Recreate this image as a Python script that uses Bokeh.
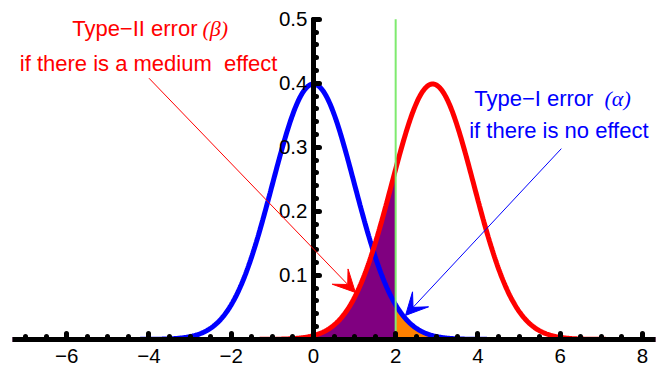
import numpy as np
from bokeh.plotting import figure
from bokeh.models import Range1d, FixedTicker, Arrow, VeeHead, Label
from bokeh.embed import file_html
from bokeh.resources import INLINE

# ---- data ----
x_ticks = [-6, -4, -2, 0, 2, 4, 6, 8]
x_tick_labels = ["\u22126", "\u22124", "\u22122", "0", "2", "4", "6", "8"]
x_minor = [-7.0, -6.5, -6.0, -5.5, -5.0, -4.5, -4.0, -3.5, -3.0, -2.5, -2.0, -1.5, -1.0, -0.5,
           0.0, 0.5, 1.0, 1.5, 2.0, 2.5, 3.0, 3.5, 4.0, 4.5, 5.0, 5.5, 6.0, 6.5, 7.0, 7.5, 8.0]
y_ticks = [0.1, 0.2, 0.3, 0.4, 0.5]
y_tick_labels = ["0.1", "0.2", "0.3", "0.4", "0.5"]
y_minor = [0.02, 0.04, 0.06, 0.08, 0.1, 0.12, 0.14, 0.16, 0.18, 0.2, 0.22, 0.24, 0.26,
           0.28, 0.3, 0.32, 0.34, 0.36, 0.38, 0.4, 0.42, 0.44, 0.46, 0.48, 0.5]
null_mean = 0.0      # no effect
alt_mean = 2.9       # medium effect
sd = 1.0
critical = 2.0
x_min, x_max = -7.32, 8.32

def pdf(x, m, s):
    return np.exp(-0.5 * ((x - m) / s) ** 2) / (s * np.sqrt(2 * np.pi))

xs = np.linspace(x_min, x_max, 900)
blue_y = pdf(xs, null_mean, sd)
red_y = pdf(xs, alt_mean, sd)

xl = np.linspace(x_min, critical, 500)
xr = np.linspace(critical, x_max, 500)

p = figure(width=660, height=369, output_backend="svg", toolbar_location=None,
           x_range=Range1d(x_min, x_max), y_range=Range1d(-0.047, 0.52),
           min_border_left=12, min_border_right=5, min_border_top=6, min_border_bottom=0)
p.outline_line_color = None
p.xgrid.grid_line_color = None
p.ygrid.grid_line_color = None
p.background_fill_color = "white"

# fills
p.varea(x=xl, y1=0, y2=pdf(xl, alt_mean, sd), fill_color="#800080")
p.varea(x=xr, y1=0, y2=pdf(xr, null_mean, sd), fill_color="#FF8000")

# curves
p.line(xs, blue_y, line_color="#0000FF", line_width=5)
p.line(xs, red_y, line_color="#FF0000", line_width=5)

# critical value line
p.segment(x0=[critical], y0=[0], x1=[critical], y1=[0.5], line_color="#7FEA6F", line_width=2)

# axes styled like Mathematica, crossing at origin
for ax in (p.xaxis[0], p.yaxis[0]):
    ax.fixed_location = 0
    ax.axis_line_width = 5
    ax.axis_line_color = "black"
    ax.axis_line_cap = "round"
    ax.major_tick_line_width = 5
    ax.minor_tick_line_width = 5
    ax.major_tick_line_cap = "round"
    ax.minor_tick_line_cap = "round"
    ax.major_tick_line_color = "black"
    ax.minor_tick_line_color = "black"
    ax.major_tick_out = 0
    ax.minor_tick_out = 0
    ax.major_tick_in = 6
    ax.minor_tick_in = 3
    ax.major_label_text_font = "Liberation Sans"
    ax.major_label_text_font_size = "20.5px"
    ax.major_label_text_color = "black"

p.xaxis[0].ticker = FixedTicker(ticks=x_ticks, minor_ticks=x_minor)
p.xaxis[0].major_label_overrides = dict(zip(x_ticks, x_tick_labels))
p.xaxis[0].bounds = (x_min, x_max)
p.xaxis[0].major_label_standoff = 10
p.yaxis[0].ticker = FixedTicker(ticks=y_ticks, minor_ticks=y_minor)
p.yaxis[0].major_label_overrides = dict(zip(y_ticks, y_tick_labels))
p.yaxis[0].bounds = (0, 0.5)
p.yaxis[0].major_label_standoff = 6

# arrows
p.add_layout(Arrow(end=VeeHead(size=22, fill_color="#FF0000", line_color="#FF0000"),
                   x_start=-4.0, y_start=0.408, x_end=1.02, y_end=0.0734,
                   line_color="#FF0000", line_width=1))
p.add_layout(Arrow(end=VeeHead(size=22, fill_color="#0000FF", line_color="#0000FF"),
                   x_start=6.03, y_start=0.298, x_end=2.24, y_end=0.0375,
                   line_color="#0000FF", line_width=1))

# annotation texts
def lab(x, y, t, color, align, font="Liberation Sans", style="normal"):
    p.add_layout(Label(x=x, y=y, text=t, text_color=color, text_align=align,
                       text_baseline="middle", text_font=font, text_font_style=style,
                       text_font_size="22px"))

lab(-2.82, 0.486, "Type\u2212II error", "#FF0000", "right")
lab(-2.70, 0.486, "(\u03b2)", "#FF0000", "left", "Liberation Serif", "italic")
lab(-4.01, 0.431, "if there is a medium\u00a0 effect", "#FF0000", "center")
lab(6.81, 0.377, "Type\u2212I error", "#0000FF", "right")
lab(7.08, 0.377, "(\u03b1)", "#0000FF", "left", "Liberation Serif", "italic")
lab(5.97, 0.327, "if there is no effect", "#0000FF", "center")

open("out.html", "w").write(file_html(p, INLINE))
